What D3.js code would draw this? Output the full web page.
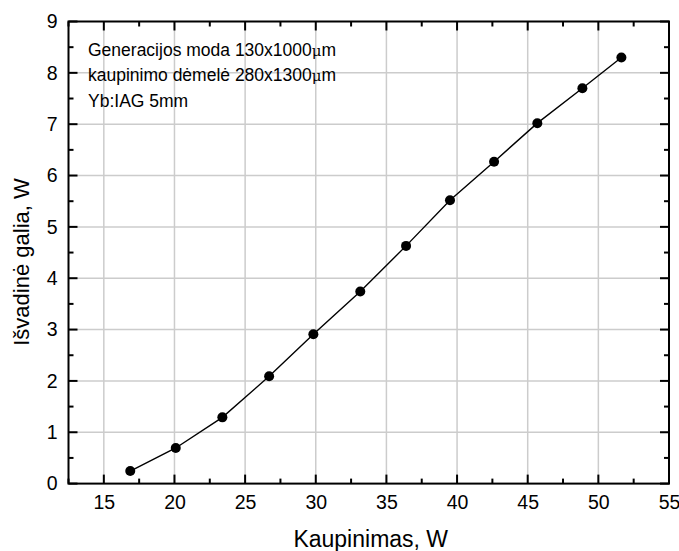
<!DOCTYPE html>
<html>
<head>
<meta charset="utf-8">
<script src="https://cdn.jsdelivr.net/npm/d3@7"></script>
<style>
  html, body { margin: 0; padding: 0; background: #fff; }
  text { font-family: "Liberation Sans", Arial, sans-serif; fill: #000; }
</style>
</head>
<body>
<svg id="chart" width="679" height="551"></svg>
<script>
// Data
const pumpPower = [16.87, 20.09, 23.39, 26.7, 29.83, 33.15, 36.39, 39.5, 42.62, 45.68, 48.87, 51.63];
const outputPower = [0.245, 0.694, 1.29, 2.09, 2.91, 3.74, 4.63, 5.52, 6.27, 7.02, 7.70, 8.30];
const xTicks = [15, 20, 25, 30, 35, 40, 45, 50, 55];
const yTicks = [0, 1, 2, 3, 4, 5, 6, 7, 8, 9];
const xMinorTicks = [12.5, 17.5, 22.5, 27.5, 32.5, 37.5, 42.5, 47.5, 52.5];
const yMinorTicks = [0.5, 1.5, 2.5, 3.5, 4.5, 5.5, 6.5, 7.5, 8.5];
const annotationLines = [
  ["Generacijos moda 130x1000", "μ", "m"],
  ["kaupinimo dėmelė 280x1300", "μ", "m"],
  ["Yb:IAG 5mm", "", ""]
];
const xTitle = "Kaupinimas, W";
const yTitle = "Išvadinė galia, W";

const svg = d3.select("#chart");
const L = 68.5, R = 669, T = 21.5, B = 483.6;
const x = d3.scaleLinear().domain([12.5, 55]).range([L, R]);
const y = d3.scaleLinear().domain([0, 9]).range([B, T]);
const data = pumpPower.map((v, i) => ({ x: v, y: outputPower[i] }));

// Grid
const grid = svg.append("g").attr("stroke", "#cccccc").attr("stroke-width", 1.5);
grid.selectAll("line.vx").data(xTicks.filter(d => d > 12.5 && d < 55)).join("line")
  .attr("x1", d => x(d)).attr("x2", d => x(d)).attr("y1", T).attr("y2", B);
grid.selectAll("line.hy").data(yTicks.filter(d => d > 0 && d < 9)).join("line")
  .attr("y1", d => y(d)).attr("y2", d => y(d)).attr("x1", L).attr("x2", R);

// Tick labels via d3 axes
function labelAxis(g) {
  g.select(".domain").remove();
  g.selectAll(".tick line").remove();
  g.selectAll(".tick text").style("font-size", "19.5px")
    .style("font-family", '"Liberation Sans", Arial, sans-serif').attr("fill", "#000");
}
svg.append("g").attr("transform", `translate(0,${B})`)
  .call(d3.axisBottom(x).tickValues(xTicks).tickSize(0).tickPadding(12).tickFormat(d3.format("d")))
  .call(labelAxis);
svg.append("g").attr("transform", `translate(${L},0)`)
  .call(d3.axisLeft(y).tickValues(yTicks).tickSize(0).tickPadding(11).tickFormat(d3.format("d")))
  .call(labelAxis);

// Inward tick marks on all four sides
const majorLen = 9, minorLen = 5;
const tickLayer = svg.append("g").attr("class", "ticklayer");
const xTickSpec = xTicks.map(v => ({ v, len: majorLen })).concat(xMinorTicks.map(v => ({ v, len: minorLen })));
const yTickSpec = yTicks.map(v => ({ v, len: majorLen })).concat(yMinorTicks.map(v => ({ v, len: minorLen })));
function drawTicks(cls, spec, fn) {
  tickLayer.selectAll("path." + cls).data(spec).join("path")
    .attr("class", cls)
    .attr("d", fn)
    .attr("fill", "none")
    .style("stroke", "#000")
    .style("stroke-width", "2px");
}
drawTicks("tb", xTickSpec, d => `M${x(d.v)},${B}V${B - d.len}`);
drawTicks("tt", xTickSpec, d => `M${x(d.v)},${T}V${T + d.len}`);
drawTicks("tl", yTickSpec, d => `M${L},${y(d.v)}H${L + d.len}`);
drawTicks("tr", yTickSpec, d => `M${R},${y(d.v)}H${R - d.len}`);

// Frame
svg.append("rect").attr("x", L).attr("y", T).attr("width", R - L).attr("height", B - T)
  .attr("fill", "none").attr("stroke", "#000").attr("stroke-width", 2);

// Line and markers
svg.append("path").datum(data)
  .attr("fill", "none").attr("stroke", "#000").attr("stroke-width", 1.4)
  .attr("d", d3.line().x(d => x(d.x)).y(d => y(d.y)));
svg.append("g").selectAll("circle").data(data).join("circle")
  .attr("cx", d => x(d.x)).attr("cy", d => y(d.y)).attr("r", 5).attr("fill", "#000");

// Annotation
const ann = svg.append("g");
annotationLines.forEach((parts, i) => {
  const t = ann.append("text").attr("x", 88).attr("y", 55.5 + i * 25.5).style("font-size", "17.5px");
  t.append("tspan").text(parts[0]);
  if (parts[1]) t.append("tspan").style("font-size", "15px").style("font-family", '"DejaVu Serif", serif').text(parts[1]);
  if (parts[2]) t.append("tspan").text(parts[2]);
});

// Axis titles
svg.append("text").attr("x", (L + R) / 2 + 2).attr("y", 546.5).attr("text-anchor", "middle")
  .style("font-size", "23px").text(xTitle);
svg.append("text").attr("transform", `translate(29,262) rotate(-90)`).attr("text-anchor", "middle")
  .style("font-size", "22px").text(yTitle);
</script>
</body>
</html>
